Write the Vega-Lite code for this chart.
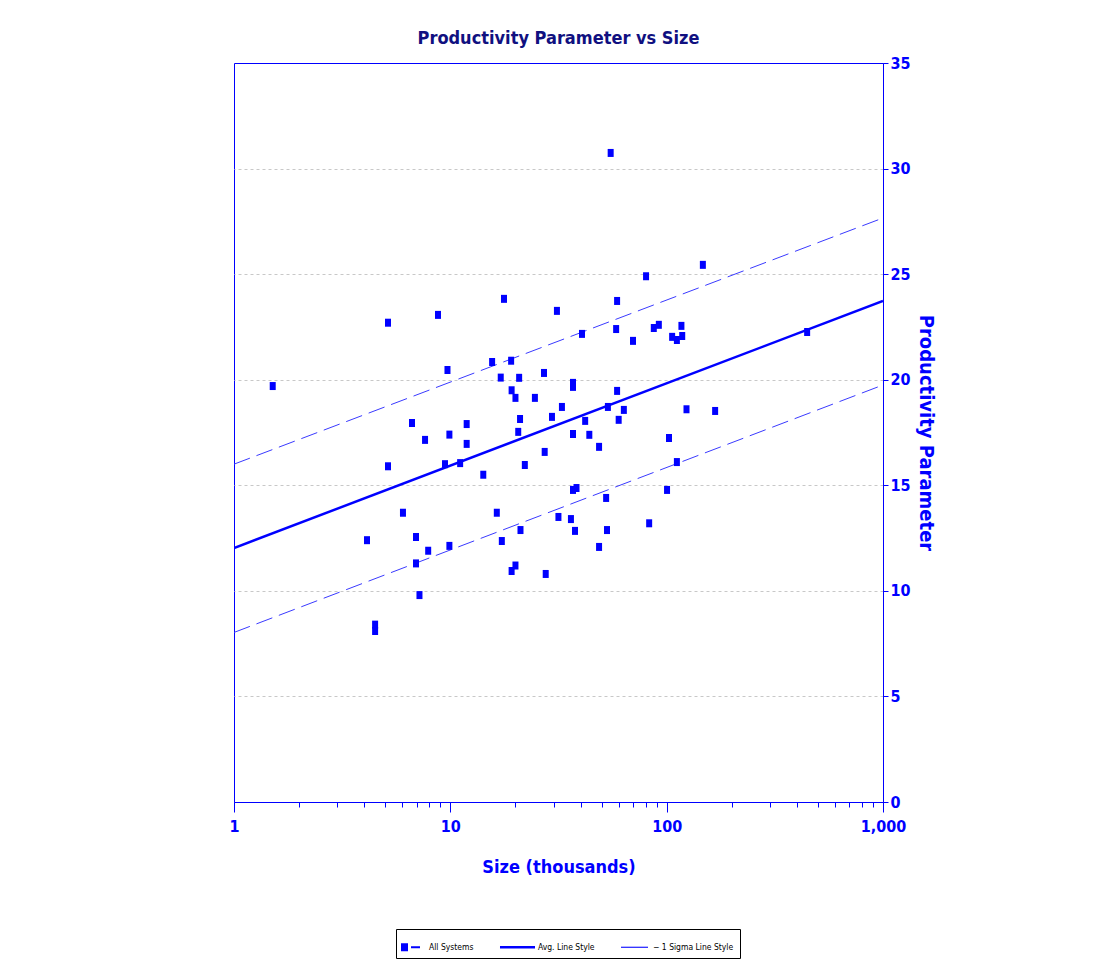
{
  "$schema": "https://vega.github.io/schema/vega-lite/v6.json",
  "width": 649,
  "height": 739,
  "padding": {"left": 228, "top": 30, "right": 5, "bottom": 5},
  "background": "white",
  "title": {
    "text": "Productivity Parameter vs Size",
    "font": "DejaVu Sans Condensed, Liberation Sans, sans-serif",
    "fontSize": 18,
    "fontWeight": "bold",
    "color": "#101080",
    "offset": 7,
    "anchor": "middle"
  },
  "config": {
    "view": {"stroke": "#0000ff", "strokeWidth": 1},
    "axis": {
      "domainColor": "#0000ff",
      "tickColor": "#0000ff",
      "labelColor": "#0000ff",
      "titleColor": "#0000ff",
      "labelFont": "DejaVu Sans Condensed, Liberation Sans, sans-serif",
      "titleFont": "DejaVu Sans Condensed, Liberation Sans, sans-serif",
      "labelFontWeight": "bold",
      "titleFontWeight": "bold"
    }
  },
  "datasets": {
    "pts": [
      {"size": 1.51, "prod": 19.7},
      {"size": 4.49, "prod": 8.4},
      {"size": 4.49, "prod": 8.1},
      {"size": 4.12, "prod": 12.4},
      {"size": 5.15, "prod": 22.7},
      {"size": 5.15, "prod": 15.9},
      {"size": 6.04, "prod": 13.7},
      {"size": 6.65, "prod": 17.95},
      {"size": 6.94, "prod": 12.55},
      {"size": 6.94, "prod": 11.3},
      {"size": 7.2, "prod": 9.8},
      {"size": 7.64, "prod": 17.15},
      {"size": 7.9, "prod": 11.9},
      {"size": 8.77, "prod": 23.07},
      {"size": 9.45, "prod": 16.0},
      {"size": 9.7, "prod": 20.46},
      {"size": 9.9, "prod": 17.4},
      {"size": 9.9, "prod": 12.13},
      {"size": 11.1, "prod": 16.05},
      {"size": 11.9, "prod": 17.9},
      {"size": 11.9, "prod": 16.96},
      {"size": 14.2, "prod": 15.5},
      {"size": 15.6, "prod": 20.84},
      {"size": 16.4, "prod": 13.7},
      {"size": 17.1, "prod": 20.1},
      {"size": 17.3, "prod": 12.36},
      {"size": 17.7, "prod": 23.83},
      {"size": 19.1, "prod": 20.9},
      {"size": 19.2, "prod": 19.5},
      {"size": 19.2, "prod": 10.94},
      {"size": 20.0, "prod": 11.2},
      {"size": 20.0, "prod": 19.14},
      {"size": 20.6, "prod": 17.53},
      {"size": 20.8, "prod": 20.09},
      {"size": 21.0, "prod": 18.14},
      {"size": 21.1, "prod": 12.88},
      {"size": 22.1, "prod": 15.96},
      {"size": 24.6, "prod": 19.14},
      {"size": 27.1, "prod": 20.32},
      {"size": 27.3, "prod": 16.58},
      {"size": 27.6, "prod": 10.8},
      {"size": 29.5, "prod": 18.24},
      {"size": 31.1, "prod": 23.26},
      {"size": 31.6, "prod": 13.5},
      {"size": 32.8, "prod": 18.71},
      {"size": 36.1, "prod": 13.4},
      {"size": 36.9, "prod": 17.43},
      {"size": 36.9, "prod": 19.85},
      {"size": 36.9, "prod": 19.66},
      {"size": 36.9, "prod": 14.78},
      {"size": 37.7, "prod": 12.84},
      {"size": 38.3, "prod": 14.87},
      {"size": 40.6, "prod": 22.17},
      {"size": 42.0, "prod": 18.05},
      {"size": 43.9, "prod": 17.39},
      {"size": 48.7, "prod": 12.08},
      {"size": 48.7, "prod": 16.82},
      {"size": 52.5, "prod": 14.4},
      {"size": 53.0, "prod": 12.88},
      {"size": 53.5, "prod": 18.71},
      {"size": 55.1, "prod": 30.74},
      {"size": 58.4, "prod": 22.4},
      {"size": 59.0, "prod": 23.73},
      {"size": 59.0, "prod": 19.47},
      {"size": 60.0, "prod": 18.1},
      {"size": 63.4, "prod": 18.57},
      {"size": 69.9, "prod": 21.84},
      {"size": 80.3, "prod": 24.9},
      {"size": 83.0, "prod": 13.2},
      {"size": 87.2, "prod": 22.45},
      {"size": 92.0, "prod": 22.6},
      {"size": 100.4, "prod": 14.78},
      {"size": 102.5, "prod": 17.24},
      {"size": 106.0, "prod": 22.03},
      {"size": 111.5, "prod": 21.88},
      {"size": 111.5, "prod": 16.1},
      {"size": 117.0, "prod": 22.55},
      {"size": 118.0, "prod": 22.07},
      {"size": 123.5, "prod": 18.6},
      {"size": 147.0, "prod": 25.44},
      {"size": 167.5, "prod": 18.52},
      {"size": 446.0, "prod": 22.26}
    ],
    "avg": [
      {"series": "Avg. Line Style", "line": "avg", "size": 1, "prod": 12.03},
      {"series": "Avg. Line Style", "line": "avg", "size": 1000, "prod": 23.73}
    ],
    "sigma": [
      {"series": "− 1 Sigma Line Style", "line": "upper", "size": 1, "prod": 16.0},
      {"series": "− 1 Sigma Line Style", "line": "upper", "size": 1000, "prod": 27.66},
      {"series": "− 1 Sigma Line Style", "line": "lower", "size": 1, "prod": 8.03},
      {"series": "− 1 Sigma Line Style", "line": "lower", "size": 1000, "prod": 19.75}
    ]
  },
  "layer": [
    {
      "data": {"name": "sigma"},
      "mark": {"type": "line", "clip": true, "strokeWidth": 1, "strokeDash": [17, 7]},
      "encoding": {
        "x": {
          "field": "size", "type": "quantitative",
          "scale": {"type": "log", "domain": [1, 1000], "nice": false},
          "axis": {
            "title": "Size (thousands)",
            "titleFontSize": 18,
            "titlePadding": 24,
            "labelFontSize": 16,
            "labelPadding": 6,
            "grid": false,
            "values": [1,2,3,4,5,6,7,8,9,10,20,30,40,50,60,70,80,90,100,200,300,400,500,600,700,800,900,1000],
            "labelExpr": "indexof([1,10,100,1000], datum.value) >= 0 ? format(datum.value, ',') : ''",
            "tickSize": {"condition": {"test": "indexof([1,10,100,1000], datum.value) >= 0", "value": 10}, "value": 5},
            "labelFlush": false,
            "labelOverlap": false
          }
        },
        "y": {
          "field": "prod", "type": "quantitative",
          "scale": {"domain": [0, 35], "nice": false, "zero": true},
          "axis": {
            "orient": "right",
            "title": "Productivity Parameter",
            "titleAngle": 90,
            "titleFontSize": 20,
            "titlePadding": 5,
            "labelFontSize": 16,
            "labelPadding": 2,
            "tickSize": 5,
            "values": [0,5,10,15,20,25,30,35],
            "grid": true,
            "gridColor": "#c8c8c8",
            "gridOpacity": {"condition": {"test": "datum.value == 0 || datum.value == 35", "value": 0}, "value": 1},
            "gridDash": [3, 3],
            "gridWidth": 1
          }
        },
        "detail": {"field": "line"},
        "color": {
          "field": "series", "type": "nominal",
          "scale": {"domain": ["All Systems", "Avg. Line Style", "− 1 Sigma Line Style"], "range": ["#0000ff", "#0000ff", "#3a3aff"]},
          "legend": {
            "title": null,
            "orient": "none",
            "direction": "horizontal",
            "legendX": 162,
            "legendY": 866,
            "strokeColor": "#000000",
            "fillColor": "#ffffff",
            "padding": 6,
            "columnPadding": 25,
            "labelFont": "DejaVu Sans Condensed, Liberation Sans, sans-serif",
            "labelFontSize": 8.5,
            "labelColor": "#000000",
            "labelOffset": 3,
            "symbolSize": 576,
            "symbolStrokeWidth": 0,
            "encode": {
              "symbols": {
                "update": {
                  "size": {"value": 576},
                  "shape": {"signal": "datum.value === 'All Systems' ? 'M-1.083,-0.33H-0.5V0.33H-1.083ZM-0.25,-0.08H0.5V0.08H-0.25Z' : (datum.value === 'Avg. Line Style' ? 'M-1.917,-0.1H1V0.1H-1.917Z' : 'M-1.417,-0.045H0.833V0.045H-1.417Z')"},
                  "fill": {"value": "#0000ff"},
                  "fillOpacity": {"value": 1},
                  "stroke": {"value": "transparent"},
                  "strokeWidth": {"value": 0},
                  "strokeDash": {"value": [1, 0]}
                }
              }
            }
          }
        }
      }
    },
    {
      "data": {"name": "avg"},
      "mark": {"type": "line", "clip": true, "strokeWidth": 2.5},
      "encoding": {
        "x": {"field": "size", "type": "quantitative"},
        "y": {"field": "prod", "type": "quantitative"},
        "color": {"field": "series", "type": "nominal"}
      }
    },
    {
      "data": {"name": "pts"},
      "mark": {"type": "point", "shape": "M-0.75,-1H0.75V1H-0.75Z", "filled": true, "size": 64, "opacity": 1, "color": "#0000ff"},
      "encoding": {
        "x": {"field": "size", "type": "quantitative"},
        "y": {"field": "prod", "type": "quantitative"}
      }
    }
  ]
}
